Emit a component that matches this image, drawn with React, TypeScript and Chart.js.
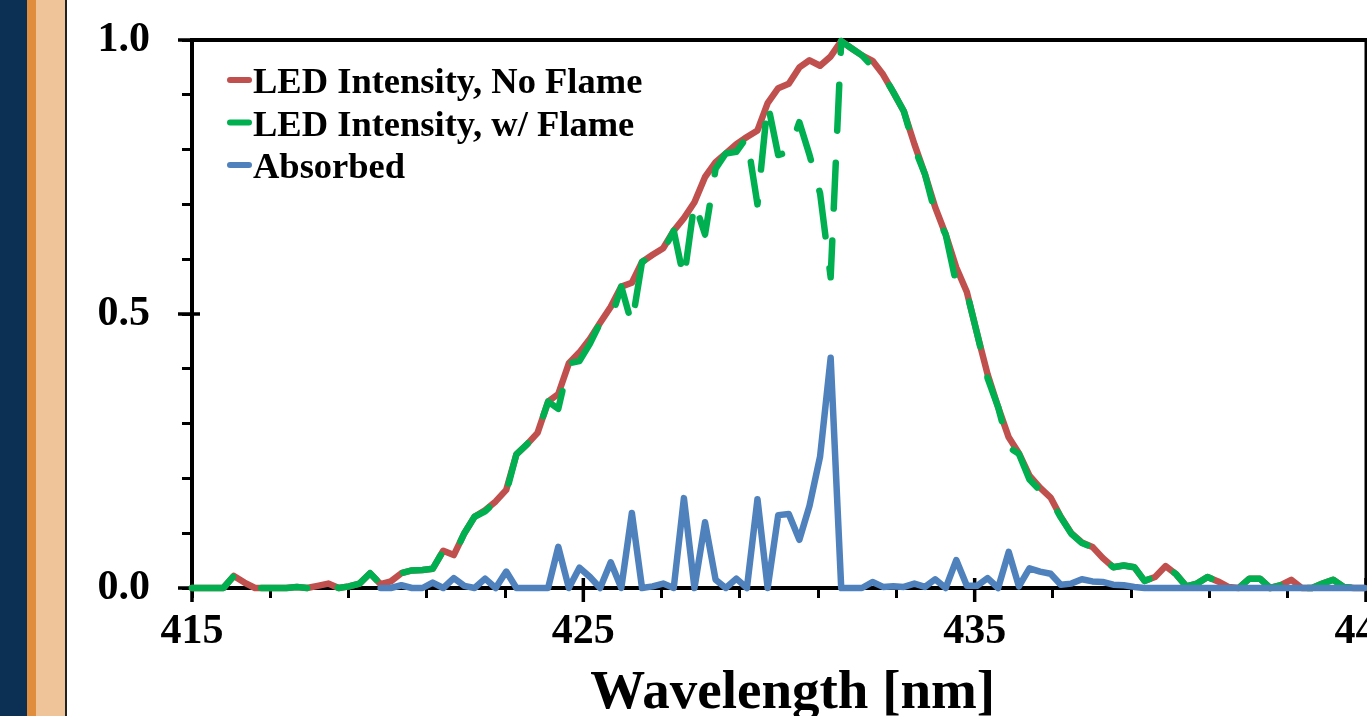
import React, { useEffect, useRef } from "react";
import { Chart, registerables } from "chart.js";

Chart.register(...registerables);

// Wavelength grid [nm]
const wavelengths = [
  415.00, 415.27, 415.54, 415.80, 416.07, 416.34, 416.61, 416.87, 417.14, 417.41,
  417.68, 417.94, 418.21, 418.48, 418.75, 419.01, 419.28, 419.55, 419.82, 420.08,
  420.35, 420.62, 420.89, 421.15, 421.42, 421.69, 421.96, 422.22, 422.49, 422.76,
  423.03, 423.29, 423.56, 423.83, 424.10, 424.36, 424.63, 424.90, 425.17, 425.43,
  425.70, 425.97, 426.24, 426.50, 426.77, 427.04, 427.31, 427.57, 427.84, 428.11,
  428.38, 428.64, 428.91, 429.18, 429.45, 429.71, 429.98, 430.25, 430.52, 430.78,
  431.05, 431.32, 431.59, 431.85, 432.12, 432.39, 432.66, 432.92, 433.19, 433.46,
  433.73, 433.99, 434.26, 434.53, 434.80, 435.06, 435.33, 435.60, 435.87, 436.13,
  436.40, 436.67, 436.94, 437.20, 437.47, 437.74, 438.01, 438.27, 438.54, 438.81,
  439.08, 439.34, 439.61, 439.88, 440.15, 440.41, 440.68, 440.95, 441.22, 441.48,
  441.75, 442.02, 442.29, 442.55, 442.82, 443.09, 443.36, 443.62, 443.89, 444.16,
  444.43, 444.69, 444.96,
];

const noFlame = [
  0, 0, 0, 0, 0.022, 0.01, 0, 0, 0, 0,
  0.002, 0, 0.004, 0.008, 0, 0.003, 0.008, 0.027, 0.007, 0.012,
  0.027, 0.032, 0.033, 0.035, 0.068, 0.06, 0.1, 0.13, 0.142, 0.158,
  0.179, 0.244, 0.262, 0.283, 0.34, 0.354, 0.41, 0.43, 0.455, 0.484,
  0.513, 0.55, 0.557, 0.595, 0.608, 0.62, 0.652, 0.675, 0.704, 0.75,
  0.777, 0.793, 0.81, 0.823, 0.835, 0.885, 0.912, 0.92, 0.95, 0.963,
  0.953, 0.97, 0.998, 0.985, 0.972, 0.962, 0.937, 0.905, 0.87, 0.81,
  0.755, 0.695, 0.645, 0.585, 0.54, 0.465, 0.39, 0.33, 0.275, 0.246,
  0.205, 0.183, 0.165, 0.13, 0.1, 0.083, 0.075, 0.055, 0.038, 0.041,
  0.038, 0.013, 0.02, 0.04, 0.025, 0.003, 0.008, 0.02, 0.012, 0.002,
  0, 0.017, 0.017, 0, 0.005, 0.015, 0, 0, 0.008, 0.015,
  0.002, 0, 0,
];

const withFlame = [
  0, 0, 0, 0, 0.022, 0.01, 0, 0, 0, 0,
  0.002, 0, 0.004, 0.008, 0, 0.003, 0.008, 0.027, 0.007, 0.012,
  0.027, 0.032, 0.033, 0.035, 0.068, 0.059, 0.1, 0.13, 0.14, 0.158,
  0.174, 0.244, 0.262, 0.283, 0.34, 0.327, 0.41, 0.414, 0.446, 0.484,
  0.489, 0.55, 0.481, 0.595, 0.606, 0.615, 0.652, 0.564, 0.704, 0.645,
  0.765, 0.793, 0.796, 0.823, 0.7, 0.885, 0.79, 0.796, 0.85, 0.79,
  0.72, 0.567, 0.998, 0.985, 0.972, 0.951, 0.937, 0.905, 0.87, 0.803,
  0.755, 0.684, 0.645, 0.555, 0.54, 0.465, 0.383, 0.33, 0.257, 0.245,
  0.198, 0.178, 0.161, 0.129, 0.099, 0.082, 0.074, 0.054, 0.038, 0.041,
  0.038, 0.013, 0.02, 0.04, 0.025, 0.003, 0.008, 0.02, 0.012, 0.002,
  0, 0.017, 0.017, 0, 0.005, 0.015, 0, 0, 0.008, 0.015,
  0.002, 0, 0,
];

const absorbed = [
  null, null, null, null, null, null, null, null, null, null,
  null, null, null, null, null, null, null, null, 0, 0,
  0.005, 0, 0, 0.01, 0, 0.018, 0.004, 0, 0.017, 0,
  0.03, 0, 0, 0, 0, 0.075, 0, 0.037, 0.02, 0,
  0.047, 0, 0.137, 0, 0.003, 0.008, 0, 0.164, 0, 0.12,
  0.015, 0, 0.017, 0, 0.162, 0, 0.133, 0.135, 0.088, 0.15,
  0.24, 0.42, 0, 0, 0, 0.011, 0.002, 0.003, 0.002, 0.008,
  0.002, 0.016, 0, 0.051, 0.004, 0.004, 0.018, 0, 0.066, 0.003,
  0.036, 0.03, 0.026, 0.006, 0.008, 0.016, 0.012, 0.011, 0.006, 0.005,
  0.002, 0, 0, 0, 0, 0, 0, 0, 0, 0,
  0, 0, 0, 0, 0, 0, 0, 0, 0, 0,
  0, 0, 0,
];

const seriesLabels = ["LED Intensity, No Flame", "LED Intensity, w/ Flame", "Absorbed"];
const seriesColors = ["#C0504D", "#00B050", "#4F81BD"];
const xTickLabels = [415, 425, 435, 445];
const yTickLabels = [0, 0.5, 1];
const xTitle = "Wavelength [nm]";

const FONT = '"Liberation Serif", "Times New Roman", serif';
const LINE_W = 6.5;

const framePlugin = {
  id: "frame",
  beforeDatasetsDraw(chart: any) {
    const { ctx, chartArea, scales } = chart;
    const { left, right, top, bottom } = chartArea;
    ctx.save();
    ctx.strokeStyle = "#000";
    ctx.lineWidth = 4;
    ctx.beginPath();
    ctx.moveTo(left - 2, top);
    ctx.lineTo(right + 2, top);
    ctx.stroke();
    ctx.lineWidth = 3;
    ctx.beginPath();
    ctx.moveTo(right, top);
    ctx.lineTo(right, bottom);
    ctx.stroke();
    ctx.lineWidth = 3.5;
    ctx.beginPath();
    yTickLabels.forEach((v) => {
      const py = scales.y.getPixelForValue(v);
      ctx.moveTo(left - 14, py);
      ctx.lineTo(left + 8, py);
    });
    xTickLabels.forEach((v) => {
      const px = scales.x.getPixelForValue(v);
      ctx.moveTo(px, bottom - 10);
      ctx.lineTo(px, bottom + 14);
    });
    ctx.stroke();
    ctx.restore();
  },
};

const legendPlugin = {
  id: "insideLegend",
  afterDatasetsDraw(chart: any) {
    const { ctx, chartArea } = chart;
    ctx.save();
    ctx.font = `bold 36.5px ${FONT}`;
    ctx.textBaseline = "middle";
    ctx.textAlign = "left";
    chart.data.datasets.forEach((ds: any, i: number) => {
      const y = chartArea.top + 40 + i * 42.5;
      ctx.strokeStyle = ds.borderColor;
      ctx.lineWidth = 6;
      ctx.lineCap = "round";
      ctx.setLineDash([]);
      ctx.beginPath();
      ctx.moveTo(chartArea.left + 38, y);
      ctx.lineTo(chartArea.left + 57, y);
      ctx.stroke();
      ctx.fillStyle = "#000";
      ctx.fillText(ds.label, chartArea.left + 61, y + 4);
    });
    ctx.restore();
  },
};

export default function App() {
  const canvasRef = useRef<HTMLCanvasElement | null>(null);

  useEffect(() => {
    const canvas = canvasRef.current;
    if (!canvas) return;
    const mk = (arr: (number | null)[]) =>
      wavelengths.map((x, i) => ({ x, y: arr[i] }));

    const common = {
      borderWidth: LINE_W,
      pointRadius: 0,
      tension: 0,
      borderJoinStyle: "round",
      borderCapStyle: "round",
      clip: false,
    };

    const chart = new Chart(canvas, {
      type: "line",
      data: {
        datasets: [
          {
            ...common,
            label: seriesLabels[0],
            data: mk(noFlame),
            borderColor: seriesColors[0],
            backgroundColor: seriesColors[0],
            order: 3,
          },
          {
            ...common,
            label: seriesLabels[1],
            data: mk(withFlame),
            borderColor: seriesColors[1],
            backgroundColor: seriesColors[1],
            borderDash: [46, 32],
            order: 2,
          },
          {
            ...common,
            label: seriesLabels[2],
            data: mk(absorbed),
            borderColor: seriesColors[2],
            backgroundColor: seriesColors[2],
            order: 1,
          },
        ],
      } as any,
      options: {
        animation: false,
        responsive: false,
        maintainAspectRatio: false,
        layout: { padding: { left: 66, right: 1, top: 40, bottom: 0 } },
        plugins: {
          legend: { display: false },
          tooltip: { enabled: false },
        },
        scales: {
          x: {
            type: "linear",
            min: 415,
            max: 445,
            afterFit: (s: any) => {
              s.height = 128;
              s.paddingLeft = 0;
              s.paddingRight = 0;
            },
            ticks: {
              stepSize: 2,
              maxTicksLimit: 100,
              autoSkip: false,
              maxRotation: 0,
              padding: 9,
              color: "#000",
              font: { family: FONT, size: 42, weight: "bold" },
              callback: (v: any) =>
                xTickLabels.some((t) => Math.abs(t - Number(v)) < 1e-6) ? String(Math.round(Number(v))) : "",
            },
            grid: {
              drawOnChartArea: false,
              drawTicks: true,
              tickLength: 10,
              tickWidth: 3,
              tickColor: "#000",
            },
            border: { display: true, width: 4, color: "#000" },
            title: {
              display: true,
              text: "\u2002" + xTitle,
              color: "#000",
              font: { family: FONT, size: 55, weight: "bold", lineHeight: 1.2 },
              padding: { top: 0, bottom: -11 },
            },
          },
          y: {
            type: "linear",
            min: 0,
            max: 1,
            afterFit: (s: any) => {
              s.width = 126;
              s.paddingTop = 0;
              s.paddingBottom = 0;
            },
            ticks: {
              stepSize: 0.1,
              maxTicksLimit: 100,
              autoSkip: false,
              padding: 32,
              color: "#000",
              font: { family: FONT, size: 42, weight: "bold" },
              callback: (v: any) =>
                yTickLabels.some((t) => Math.abs(t - Number(v)) < 1e-6) ? Number(v).toFixed(1) : "",
            },
            grid: {
              drawOnChartArea: false,
              drawTicks: true,
              tickLength: 10,
              tickWidth: 3,
              tickColor: "#000",
            },
            border: { display: true, width: 4, color: "#000" },
          },
        },
      } as any,
      plugins: [framePlugin, legendPlugin],
    });

    return () => chart.destroy();
  }, []);

  return (
    <div
      style={{
        position: "fixed",
        left: 0,
        top: 0,
        width: 1367,
        height: 716,
        overflow: "hidden",
        background: "#fff",
      }}
    >
      <div style={{ position: "absolute", left: 0, top: 0, width: 27, height: 716, background: "#0C3054" }} />
      <div style={{ position: "absolute", left: 27, top: 0, width: 9, height: 716, background: "#E08E3E" }} />
      <div style={{ position: "absolute", left: 36, top: 0, width: 29, height: 716, background: "#EEC498" }} />
      <div style={{ position: "absolute", left: 65, top: 0, width: 2, height: 716, background: "#222" }} />
      <canvas
        ref={canvasRef}
        width={1367}
        height={716}
        style={{ position: "absolute", left: 0, top: 0, width: 1367, height: 716, display: "block" }}
      />
    </div>
  );
}
